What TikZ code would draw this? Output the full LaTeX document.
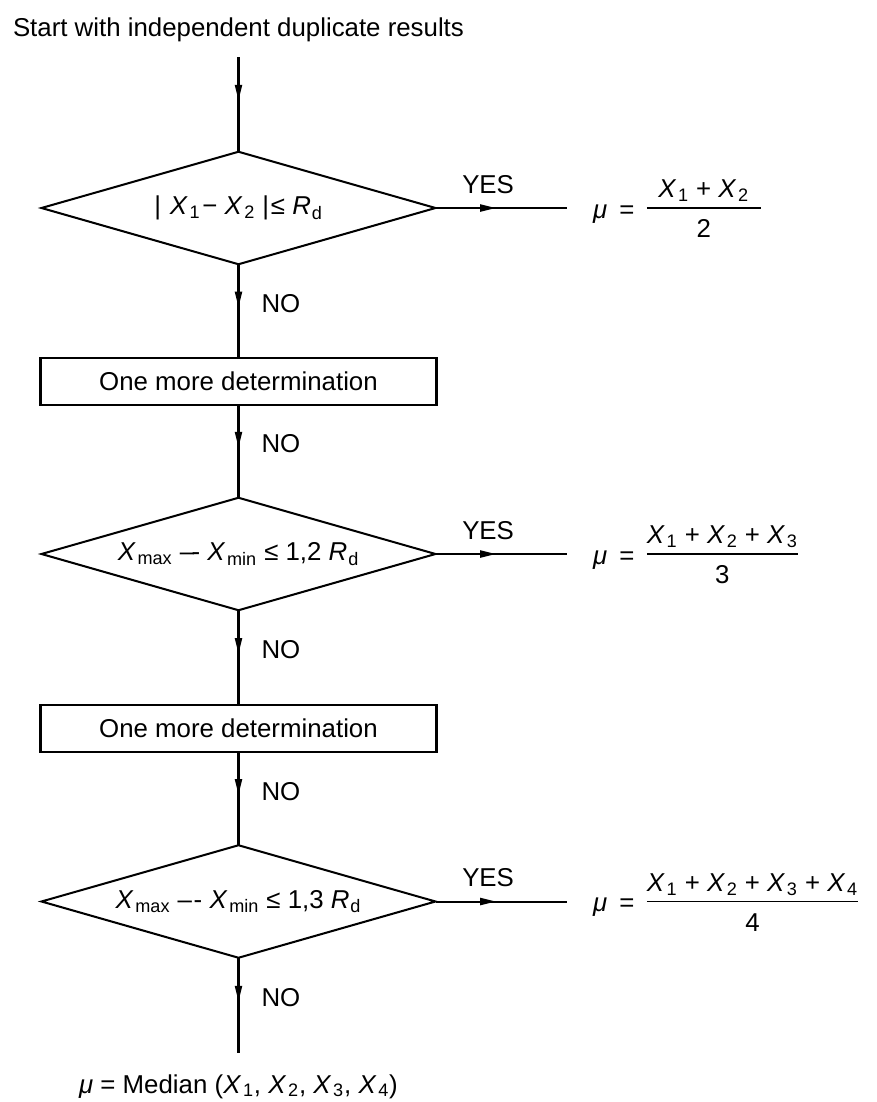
\documentclass[tikz,border=0pt]{standalone}
\usepackage{fontspec}
\setmainfont{Liberation Sans}
\usepackage{tikz}
\usetikzlibrary{shapes.geometric,arrows.meta,decorations.markings}

\newcommand{\Xs}[1]{\textit{X}\kern1pt\textsubscript{#1}}
\newcommand{\Rd}{\textit{R}\kern0.5pt\textsubscript{d}}
\newcommand{\frc}[2]{\begin{tabular}{@{}c@{}}#1\\\hline\rule{0pt}{16.5pt}#2\end{tabular}}
\setlength{\arrayrulewidth}{1.1pt}

\tikzset{
  decision/.style={draw, diamond, aspect=3.5, minimum width=7.88cm, minimum height=2.25cm, inner sep=0pt, outer sep=0pt},
  process/.style={draw, rectangle, minimum width=7.92cm, minimum height=0.94cm, inner sep=0pt, outer sep=0pt},
  midarrow/.style={postaction={decorate, decoration={markings, mark=at position #1 with {\arrow{Triangle[length=9pt,width=4pt]}}}}},
  midarrow/.default=0.46,
  nolabel/.style={anchor=west, xshift=0.44cm, inner sep=0pt},
  yeslabel/.style={anchor=base, yshift=0.3cm, inner sep=0pt},
  result/.style={anchor=base west, inner sep=0pt},
}

\begin{document}
\begin{tikzpicture}[line width=1.15pt, font=\fontsize{14.7}{17.6}\selectfont]
    \useasboundingbox (0,0) rectangle (17.54,-22.04);
    \node[anchor=base west, inner sep=0pt] (title) at (0.24,-0.72) {Start with independent duplicate results};
    %title at the top left
    \coordinate (start) at (4.77,-1.14);
    \coordinate (stop) at (4.77,-21.06);
    \coordinate (y1) at (11.34,-4.16);
    \coordinate (y2) at (11.34,-11.08);
    \coordinate (y3) at (11.34,-18.03);
    %free ends of the connectors
    \node[decision] (d1) at (4.77,-4.16) {|\hspace{5pt}\Xs{1}\kern1pt− \Xs{2} |\kern1pt≤ \Rd};
    \node[process] (b1) at (4.77,-7.63) {One more determination};
    \node[decision] (d2) at (4.77,-11.08) {\Xs{max} \textendash\kern-1.5pt- \Xs{min} ≤ 1,2 \Rd};
    \node[process] (b2) at (4.77,-14.57) {One more determination};
    \node[decision] (d3) at (4.77,-18.03) {\Xs{max} \textendash\kern1pt- \Xs{min} ≤ 1,3 \Rd};
    %tests and boxes down the middle
    \draw[midarrow] (start) -- (d1.north);
    \draw[midarrow] (d1.south) -- node[nolabel, pos=0.42] {NO} (b1.north);
    \draw[midarrow] (b1.south) -- node[nolabel, pos=0.42] {NO} (d2.north);
    \draw[midarrow] (d2.south) -- node[nolabel, pos=0.42] {NO} (b2.north);
    \draw[midarrow] (b2.south) -- node[nolabel, pos=0.42] {NO} (d3.north);
    \draw[midarrow] (d3.south) -- node[nolabel, pos=0.42] {NO} (stop);
    %vertical connectors, NO to the right of the arrow
    \draw[midarrow] (d1.east) -- node[yeslabel, pos=0.4] {YES} (y1);
    \draw[midarrow] (d2.east) -- node[yeslabel, pos=0.4] {YES} (y2);
    \draw[midarrow] (d3.east) -- node[yeslabel, pos=0.4] {YES} (y3);
    %YES branches
    \node[result] (m1) at ([xshift=0.5cm, yshift=-0.2cm]y1) {\textit{μ}\hspace{7pt}=\hspace{7pt}\frc{\hspace*{6.5pt}\Xs{1} + \Xs{2}\hspace*{6.5pt}}{2}};
    \node[result] (m2) at ([xshift=0.5cm, yshift=-0.2cm]y2) {\textit{μ}\hspace{7pt}=\hspace{7pt}\frc{\Xs{1} + \Xs{2} + \Xs{3}}{3}};
    \node[result] (m3) at ([xshift=0.5cm, yshift=-0.2cm]y3) {\textit{μ}\hspace{7pt}=\hspace{7pt}\frc{\Xs{1} + \Xs{2} + \Xs{3} + \Xs{4}}{4}};
    \node[anchor=base, inner sep=0pt] (med) at (4.77,-21.86) {\textit{μ} = Median (\Xs{1}, \Xs{2}, \Xs{3}, \Xs{4})};
    %results
\end{tikzpicture}
\end{document}
